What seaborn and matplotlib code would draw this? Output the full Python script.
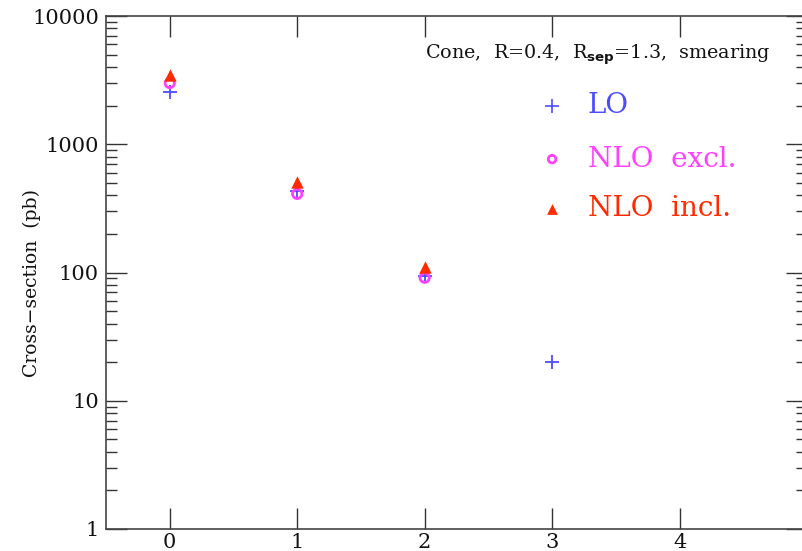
import matplotlib
matplotlib.use("Agg")
import matplotlib.pyplot as plt
import matplotlib.ticker as mticker
import matplotlib.transforms as mtransforms
import seaborn as sns
import pandas as pd
import numpy as np

# data
lo_x = [0, 1, 2, 3]
lo_y = [2550, 434, 94, 20]
nlo_excl_x = [0, 1, 2]
nlo_excl_y = [3000, 410, 91]
nlo_incl_x = [0, 1, 2]
nlo_incl_y = [3470, 508, 110]
ytick_vals = [1, 10, 100, 1000, 10000]
ytick_labels = ["1", "10", "100", "1000", "10000"]
xtick_vals = [0, 1, 2, 3, 4]
legend_labels = ["LO", "NLO  excl.", "NLO  incl."]

c_lo = "#4c4cff"
c_excl = "#ff40ff"
c_incl = "#ff2a00"

sns.set_theme(style="ticks")
plt.rcParams['font.family'] = ['DejaVu Serif']

fig = plt.figure(figsize=(8.03, 5.51), dpi=100)
ax = fig.add_axes([106/803, 22/551, 701/803, 513/551])

df_lo = pd.DataFrame({"x": lo_x, "y": lo_y})
df_ex = pd.DataFrame({"x": nlo_excl_x, "y": nlo_excl_y})
df_in = pd.DataFrame({"x": nlo_incl_x, "y": nlo_incl_y})

sns.scatterplot(data=df_lo, x="x", y="y", ax=ax, marker="+", s=110,
                color=c_lo, linewidth=1.3, zorder=3)
sns.scatterplot(data=df_ex, x="x", y="y", ax=ax, marker="o", s=45,
                facecolor="none", edgecolor=c_excl, linewidth=2.0, zorder=3)
sns.scatterplot(data=df_in, x="x", y="y", ax=ax, marker="^", s=80,
                color=c_incl, linewidth=0, zorder=4)

ax.set_yscale("log")
ax.set_xlim(-0.5, 5)
ax.set_ylim(1, 10000)
ax.set_xticks(xtick_vals)
ax.set_xticklabels([str(v) for v in xtick_vals])
ax.yaxis.set_major_locator(mticker.FixedLocator(ytick_vals))
ax.yaxis.set_major_formatter(mticker.FixedFormatter(ytick_labels))
ax.yaxis.set_minor_locator(mticker.LogLocator(base=10, subs=np.arange(2, 10)))
ax.yaxis.set_minor_formatter(mticker.NullFormatter())
ax.xaxis.set_minor_locator(mticker.NullLocator())

ax.tick_params(axis="both", which="major", direction="in", length=15, width=1.0,
               color="#333333", top=True, right=True, labelsize=15, labelcolor="#111111")
ax.tick_params(axis="y", which="minor", direction="in", length=8, width=1.0,
               color="#333333", right=True)
ax.tick_params(axis="x", which="major", pad=3)
ax.tick_params(axis="y", which="major", pad=5)
for sp in ax.spines.values():
    sp.set_color("#444444")
    sp.set_linewidth(1.2)

ax.set_xlabel("")
ax.set_ylabel("Cross\u2212section  (pb)", fontsize=13.5, color="#111111")
ax.yaxis.set_label_coords(-0.093, 0.48)

trans = mtransforms.blended_transform_factory(ax.transData, ax.transAxes)
ax.text(2.0, 0.924, "Cone,  R=0.4,  R$_{\\mathbf{sep}}$=1.3,  smearing", transform=trans,
        fontsize=13.8, va="center", ha="left", color="#111111")

rows_y = [0.8246, 0.721, 0.624]
ax.scatter([3], [rows_y[0]], transform=trans, marker="+", s=90, color=c_lo, linewidth=1.2, zorder=5)
ax.scatter([3], [rows_y[1]], transform=trans, marker="o", s=30, facecolor="none",
           edgecolor=c_excl, linewidth=2.0, zorder=5)
ax.scatter([3], [rows_y[2]], transform=trans, marker="^", s=60, color=c_incl, linewidth=0, zorder=5)
for yy, lab, col in zip(rows_y, legend_labels, [c_lo, c_excl, c_incl]):
    ax.text(3.28, yy, lab, transform=trans, fontsize=20, va="center", ha="left", color=col)

fig.savefig("out.png", dpi=100)
